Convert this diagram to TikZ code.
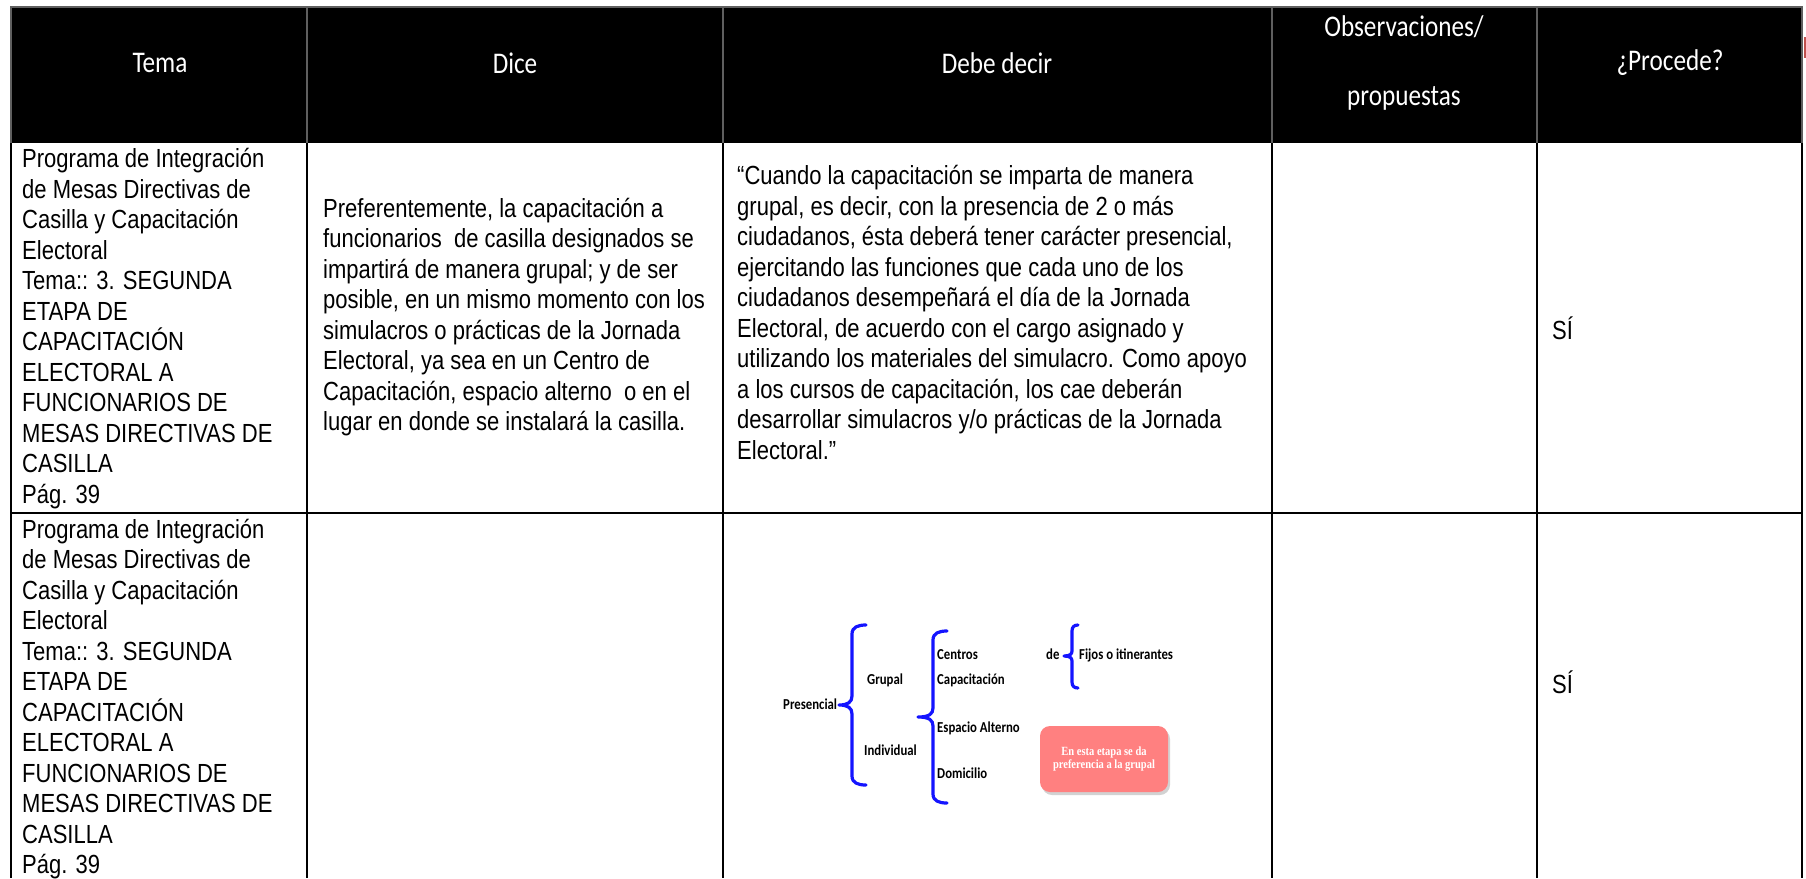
\documentclass[tikz,border=0pt]{standalone}
\usepackage{fontspec}
\setmainfont{Liberation Sans}
\newfontfamily\bodyfont[FakeStretch=0.84]{Liberation Sans}
\newfontfamily\hdfont[FakeStretch=0.84]{Carlito}
\newfontfamily\serfont[FakeStretch=0.84]{Liberation Serif}
\definecolor{bracecol}{RGB}{20,20,255}
\definecolor{hdrgray}{RGB}{95,95,95}
\definecolor{pinkbox}{RGB}{255,128,128}
\definecolor{redmark}{RGB}{192,80,77}
\begin{document}
\begin{tikzpicture}[x=1pt,y=-1pt,
  hdr/.style={font=\hdfont\fontsize{30}{34}\selectfont, text=white, inner sep=0pt},
  cell/.style={font=\bodyfont\fontsize{26.2}{30.5}\selectfont, align=left, anchor=north west, inner sep=0pt},
  yes/.style={font=\bodyfont\fontsize{26.2}{30.5}\selectfont, anchor=west, inner sep=0pt},
  dg/.style={font=\hdfont\bfseries\fontsize{15.2}{17}\selectfont, anchor=west, inner sep=0pt, text height=11pt, text depth=3.5pt},
  brace/.style={draw=bracecol, line width=3.2pt, line cap=round, line join=round},
  grid/.style={draw=black, line width=2.6pt},
  hgrid/.style={draw=hdrgray, line width=2.4pt},
  ]
\useasboundingbox (0,0) rectangle (1806,878);
\fill[white] (0,0) rectangle (1806,878);
% header
\fill[black] (11,7) rectangle (1802,143);
\draw[hgrid] (11,143) -- (11,7) -- (1802,7) -- (1802,143);
\foreach \xx in {307,723,1272,1537} \draw[hgrid] (\xx,7) -- (\xx,143);
\fill[redmark] (1804,37) rectangle (1806,58);
% body grid
\draw[grid] (11,143) -- (11,878);
\draw[grid] (1802,143) -- (1802,878);
\foreach \xx in {307,723,1272,1537} \draw[grid] (\xx,143) -- (\xx,878);
\draw[grid] (11,513) -- (1802,513);
% header text
\node[hdr] (h1) at (160,63) {Tema};
\node[hdr] (h2) at (515,63) {Dice};
\node[hdr] (h3) at (997,63) {Debe decir};
\node[hdr] (h4a) at (1404,27) {Observaciones/};
\node[hdr] (h4b) at (1404,98) {propuestas};
\node[hdr] (h5) at (1670,63) {¿Procede?};
% row 1
\node[cell] (t1) at (22,148.5) {Programa de Integración\\de Mesas Directivas de\\Casilla y Capacitación\\Electoral\\Tema:: 3. SEGUNDA\\ETAPA DE\\CAPACITACIÓN\\ELECTORAL A\\FUNCIONARIOS DE\\MESAS DIRECTIVAS DE\\CASILLA\\Pág. 39};
\node[cell] (d1) at (323,198) {Preferentemente, la capacitación a\\funcionarios\ \ de casilla designados se\\impartirá de manera grupal; y de ser\\posible, en un mismo momento con los\\simulacros o prácticas de la Jornada\\Electoral, ya sea en un Centro de\\Capacitación, espacio alterno\ \ o en el\\lugar en donde se instalará la casilla.};
\node[cell] (e1) at (737,165.5) {“Cuando la capacitación se imparta de manera\\grupal, es decir, con la presencia de 2 o más\\ciudadanos, ésta deberá tener carácter presencial,\\ejercitando las funciones que cada uno de los\\ciudadanos desempeñará el día de la Jornada\\Electoral, de acuerdo con el cargo asignado y\\utilizando los materiales del simulacro. Como apoyo\\a los cursos de capacitación, los cae deberán\\desarrollar simulacros y/o prácticas de la Jornada\\Electoral.”};
\node[yes] (p1) at (1552,328) {SÍ};
% row 2
\node[cell] (t2) at (22,518.5) {Programa de Integración\\de Mesas Directivas de\\Casilla y Capacitación\\Electoral\\Tema:: 3. SEGUNDA\\ETAPA DE\\CAPACITACIÓN\\ELECTORAL A\\FUNCIONARIOS DE\\MESAS DIRECTIVAS DE\\CASILLA\\Pág. 39};
\node[yes] (p2) at (1552,682) {SÍ};
% small diagram
\node[dg] (pres) at (783,706) {Presencial};
\node[dg] (grup) at (867,681) {Grupal};
\node[dg] (indi) at (864,752) {Individual};
\node[dg] (cent) at (937,656) {Centros};
\node[dg] (de) at (1046,656) {de};
\node[dg] (capa) at (937,681) {Capacitación};
\node[dg] (espa) at (937,729) {Espacio Alterno};
\node[dg] (domi) at (937,775) {Domicilio};
\node[dg] (fijo) at (1079,656) {Fijos o itinerantes};
% brace 1
\draw[brace] (866,625) .. controls (858,625) and (852,627) .. (852,634) -- (852,696) .. controls (852,702) and (848,705) .. (839,705) .. controls (848,705) and (852,708) .. (852,714) -- (852,776) .. controls (852,783) and (858,785) .. (866,785);
% brace 2
\draw[brace] (947,631) .. controls (939,631) and (933,633) .. (933,640) -- (933,708) .. controls (933,714) and (929,717) .. (918,717) .. controls (929,717) and (933,720) .. (933,726) -- (933,794) .. controls (933,801) and (939,803) .. (947,803);
% brace 3
\draw[brace] (1078,625) .. controls (1074,625) and (1072,627) .. (1072,631) -- (1072,651) .. controls (1072,654) and (1070,656) .. (1064,656) .. controls (1070,656) and (1072,658) .. (1072,661) -- (1072,682) .. controls (1072,686) and (1074,688) .. (1078,688);
% note
\fill[gray!35, rounded corners=10pt] (1042,729) rectangle (1170,795);
\node[draw=none, fill=pinkbox, rounded corners=10pt, minimum width=128pt, minimum height=66pt, inner sep=0pt,
      text=white, align=center, font=\serfont\bfseries\fontsize{12.5}{13}\selectfont] (note) at (1104,759) {En esta etapa se da\\preferencia a la grupal};
\end{tikzpicture}
\end{document}
